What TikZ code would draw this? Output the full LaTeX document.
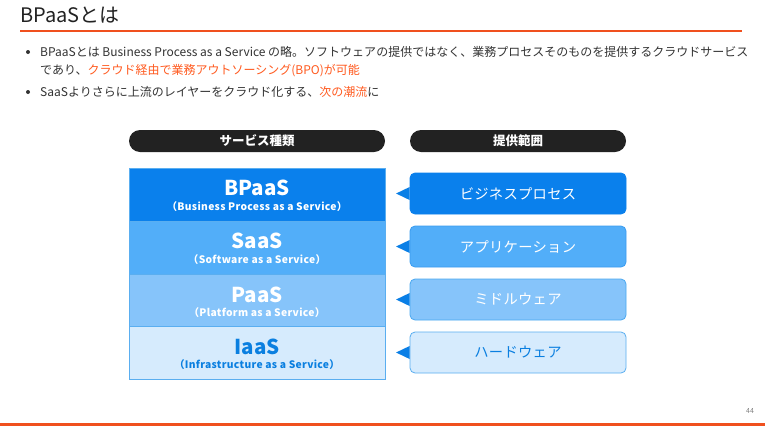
\documentclass[tikz,border=0pt]{standalone}
\usepackage{fontspec}
\setmainfont{Noto Sans CJK JP}
\definecolor{orangeline}{HTML}{F0501E}
\definecolor{orangetext}{HTML}{FF5A1F}
\definecolor{bodytext}{HTML}{333333}
\definecolor{pill}{HTML}{222222}
\definecolor{cA}{HTML}{0A80EC}
\definecolor{cB}{HTML}{52AEF9}
\definecolor{cC}{HTML}{86C4FA}
\definecolor{cD}{HTML}{D6EBFD}
\definecolor{bB}{HTML}{3A9CF0}
\definecolor{bC}{HTML}{4AA8F0}
\definecolor{bD}{HTML}{5AAEF0}
\definecolor{ptr}{HTML}{0A7FE6}
\definecolor{iatext}{HTML}{0A7FE0}
\tikzset{
  body/.style={anchor=west, inner sep=0, text=bodytext, font=\fontsize{12}{14}\selectfont},
  pillbox/.style={fill=pill, rounded corners=11pt, minimum height=22pt, text=white, inner sep=0,
    font=\fontsize{12.5}{14}\selectfont\bfseries},
  layer/.style={minimum height=53pt, minimum width=256pt, inner sep=0, draw=bD, line width=0.8pt},
  mainlab/.style={inner sep=0, font=\fontsize{20.5}{24}\selectfont\bfseries},
  sublab/.style={inner sep=0, font=\fontsize{10.3}{12}\selectfont\bfseries\addfontfeatures{LetterSpace=3}},
  rbox/.style={minimum height=41pt, minimum width=216pt, inner sep=0, rounded corners=5pt, line width=0.8pt,
    font=\fontsize{14.3}{16}\selectfont\addfontfeatures{LetterSpace=2}},
}
\begin{document}
\begin{tikzpicture}[x=1pt,y=-1pt]
\useasboundingbox (0,0) rectangle (765,426);
\fill[white] (0,0) rectangle (765,426);
% title
\node[anchor=west, inner sep=0, text=pill, font=\fontsize{20}{24}\selectfont] (title) at (20,15) {BPaaSとは};
\coordinate (tl1) at (20,31);
\coordinate (tl2) at (742,31);
\draw[orangeline, line width=1.5pt] (tl1) -- (tl2);
% bullets
\fill[bodytext] (28,52) circle (2);
\node[body] (b1) at (40,52) {BPaaSとは Business Process as a Service の略。ソフトウェアの提供ではなく、業務プロセスそのものを提供するクラウドサービス};
\node[body] (b1b) at (40,71) {であり、\textcolor{orangetext}{クラウド経由で業務アウトソーシング(BPO)が可能}};
\fill[bodytext] (28,92) circle (2);
\node[body] (b2) at (40,92) {SaaSよりさらに上流のレイヤーをクラウド化する、\textcolor{orangetext}{次の潮流}に};
% headers
\node[pillbox, minimum width=256pt] (h1) at (257,141) {サービス種類};
\node[pillbox, minimum width=216pt] (h2) at (518,141) {提供範囲};
% layers
\node[layer, fill=cA] (L1) at (257,194.5) {};
\node[layer, fill=cB] (L2) at (257,247.5) {};
\node[layer, fill=cC] (L3) at (257,300.5) {};
\node[layer, fill=cD] (L4) at (257,353) {};
\node[mainlab, text=white] (m1) at (257,188) {BPaaS};
\node[sublab, text=white] (s1) at (257,207) {（Business Process as a Service）};
\node[mainlab, text=white] (m2) at (257,241) {SaaS};
\node[sublab, text=white] (s2) at (257,260) {（Software as a Service）};
\node[mainlab, text=white] (m3) at (257,294.5) {PaaS};
\node[sublab, text=white] (s3) at (257,313) {（Platform as a Service）};
\node[mainlab, text=iatext] (m4) at (257,347) {IaaS};
\node[sublab, text=iatext] (s4) at (257,365) {（Infrastructure as a Service）};
% right boxes
\node[rbox, fill=cA, draw=cA, text=white] (r1) at (518,193.5) {ビジネスプロセス};
\node[rbox, fill=cB, draw=bB, text=white] (r2) at (518,246.5) {アプリケーション};
\node[rbox, fill=cC, draw=bC, text=white] (r3) at (518,299.5) {ミドルウェア};
\node[rbox, fill=cD, draw=bD, text=iatext] (r4) at (518,352.5) {ハードウェア};
\foreach \r in {r1,r2,r3,r4}{
  \fill[ptr] ([yshift=6.5pt]\r.west) -- ++(-13.5,6.5) -- ++(13.5,6.5) -- cycle;
}
% footer
\node[inner sep=0, text=gray, font=\fontsize{7}{8}\selectfont] (pg) at (750,411) {44};
\coordinate (f1) at (0,424.5);
\coordinate (f2) at (765,424.5);
\draw[orangeline, line width=3pt] (f1) -- (f2);
\end{tikzpicture}
\end{document}
